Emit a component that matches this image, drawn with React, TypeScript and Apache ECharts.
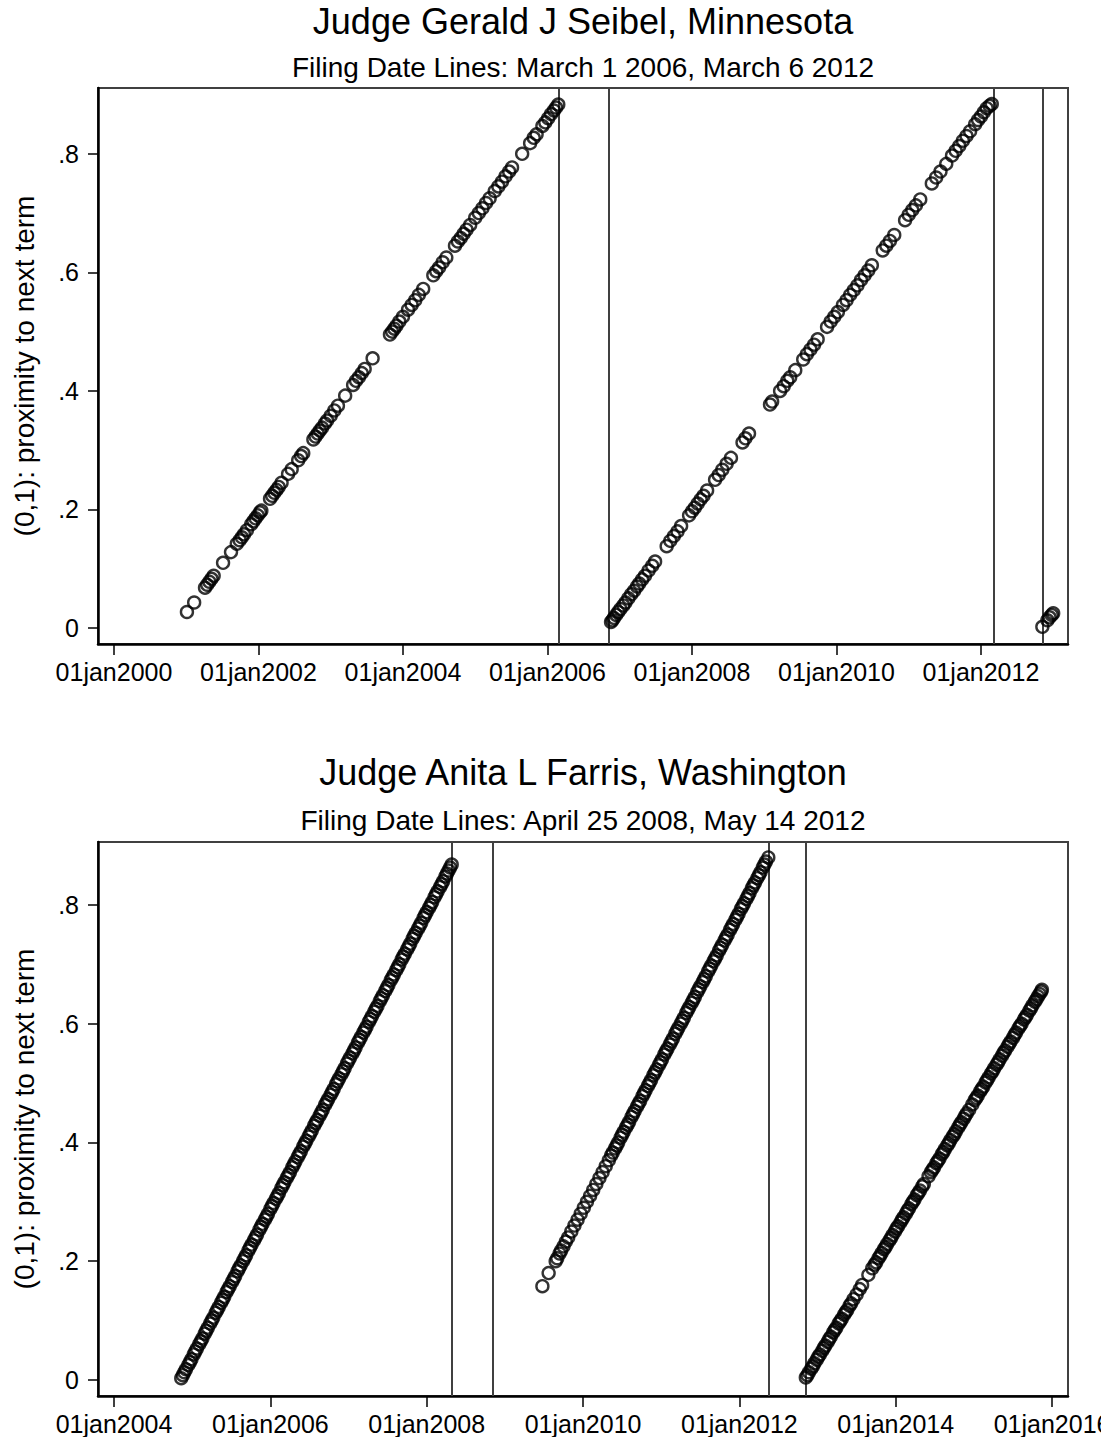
import React, { useEffect, useRef } from "react";
import * as echarts from "echarts";

// ---------- Judge Gerald J Seibel, Minnesota (x = decimal year, y = proximity) ----------
const seibelTerm1: number[][] = [
  [2001.01, 0.027], [2001.11, 0.043], [2001.26, 0.068], [2001.29, 0.073], [2001.32, 0.078],
  [2001.35, 0.083], [2001.38, 0.088], [2001.51, 0.110], [2001.62, 0.128], [2001.70, 0.142],
  [2001.74, 0.148], [2001.77, 0.153], [2001.80, 0.158], [2001.84, 0.165], [2001.90, 0.175],
  [2001.93, 0.180], [2001.96, 0.185], [2001.99, 0.190], [2002.02, 0.195], [2002.04, 0.198],
  [2002.16, 0.218], [2002.19, 0.223], [2002.22, 0.228], [2002.25, 0.233], [2002.28, 0.238],
  [2002.32, 0.245], [2002.41, 0.260], [2002.46, 0.268], [2002.55, 0.283], [2002.59, 0.290],
  [2002.62, 0.295], [2002.76, 0.318], [2002.79, 0.323], [2002.82, 0.328], [2002.85, 0.333],
  [2002.88, 0.338], [2002.92, 0.345], [2002.95, 0.350], [2003.00, 0.358], [2003.05, 0.367],
  [2003.10, 0.375], [2003.20, 0.392], [2003.31, 0.410], [2003.35, 0.417], [2003.39, 0.423],
  [2003.43, 0.430], [2003.47, 0.437], [2003.58, 0.455], [2003.82, 0.495], [2003.85, 0.500],
  [2003.88, 0.505], [2003.91, 0.510], [2003.95, 0.517], [2004.00, 0.525], [2004.07, 0.537],
  [2004.12, 0.545], [2004.17, 0.553], [2004.22, 0.562], [2004.28, 0.572], [2004.42, 0.595],
  [2004.46, 0.602], [2004.50, 0.608], [2004.55, 0.617], [2004.60, 0.625], [2004.72, 0.645],
  [2004.76, 0.652], [2004.80, 0.658], [2004.84, 0.665], [2004.88, 0.672], [2004.93, 0.680],
  [2005.00, 0.692], [2005.05, 0.700], [2005.10, 0.708], [2005.15, 0.717], [2005.20, 0.725],
  [2005.27, 0.737], [2005.32, 0.745], [2005.37, 0.753], [2005.42, 0.762], [2005.47, 0.770],
  [2005.51, 0.777], [2005.65, 0.800], [2005.76, 0.818], [2005.81, 0.827], [2005.85, 0.833],
  [2005.93, 0.847], [2005.97, 0.853], [2006.01, 0.860], [2006.05, 0.867], [2006.09, 0.873],
  [2006.12, 0.878], [2006.15, 0.883],
];
const seibelTerm2: number[][] = [
  [2006.88, 0.010], [2006.90, 0.013], [2006.92, 0.017], [2006.95, 0.022], [2006.98, 0.027],
  [2007.01, 0.032], [2007.05, 0.038], [2007.08, 0.043], [2007.12, 0.050], [2007.16, 0.057],
  [2007.20, 0.063], [2007.24, 0.070], [2007.27, 0.075], [2007.31, 0.082], [2007.35, 0.088],
  [2007.40, 0.097], [2007.45, 0.105], [2007.49, 0.112], [2007.65, 0.138], [2007.70, 0.147],
  [2007.75, 0.155], [2007.80, 0.163], [2007.85, 0.172], [2007.96, 0.190], [2008.00, 0.197],
  [2008.04, 0.203], [2008.08, 0.210], [2008.12, 0.217], [2008.16, 0.223], [2008.21, 0.232],
  [2008.32, 0.250], [2008.37, 0.258], [2008.42, 0.267], [2008.48, 0.277], [2008.54, 0.287],
  [2008.70, 0.313], [2008.74, 0.320], [2008.79, 0.328], [2009.08, 0.377], [2009.11, 0.382],
  [2009.22, 0.400], [2009.27, 0.408], [2009.32, 0.417], [2009.36, 0.423], [2009.43, 0.435],
  [2009.54, 0.453], [2009.59, 0.462], [2009.64, 0.470], [2009.69, 0.478], [2009.74, 0.487],
  [2009.87, 0.508], [2009.92, 0.517], [2009.97, 0.525], [2010.02, 0.533], [2010.09, 0.545],
  [2010.14, 0.553], [2010.19, 0.562], [2010.24, 0.570], [2010.29, 0.578], [2010.34, 0.587],
  [2010.39, 0.595], [2010.44, 0.603], [2010.49, 0.612], [2010.64, 0.637], [2010.69, 0.645],
  [2010.74, 0.653], [2010.80, 0.663], [2010.95, 0.688], [2011.00, 0.697], [2011.05, 0.705],
  [2011.10, 0.713], [2011.16, 0.723], [2011.32, 0.750], [2011.38, 0.760], [2011.44, 0.770],
  [2011.52, 0.783], [2011.60, 0.797], [2011.65, 0.805], [2011.70, 0.813], [2011.75, 0.822],
  [2011.80, 0.830], [2011.85, 0.838], [2011.92, 0.850], [2011.96, 0.857], [2012.00, 0.863],
  [2012.04, 0.870], [2012.08, 0.877], [2012.12, 0.881], [2012.15, 0.884],
];
const seibelTerm3: number[][] = [
  [2012.85, 0.002], [2012.92, 0.013], [2012.95, 0.018], [2012.98, 0.022], [2013.00, 0.025],
];
const seibelFilingLines = [2006.16, 2012.18];
const seibelElectionLines = [2006.85, 2012.85];
const seibelXTicks = [2000, 2002, 2004, 2006, 2008, 2010, 2012];

// ---------- Judge Anita L Farris, Washington ----------
const farrisTerm1: number[][] = [
  [2004.86, 0.003], [2004.88, 0.008], [2004.90, 0.013], [2004.92, 0.018], [2004.95, 0.025],
  [2004.97, 0.030], [2004.99, 0.035], [2005.02, 0.043], [2005.04, 0.048], [2005.06, 0.053],
  [2005.09, 0.060], [2005.11, 0.065], [2005.13, 0.070], [2005.16, 0.078], [2005.18, 0.083],
  [2005.20, 0.088], [2005.23, 0.095], [2005.25, 0.100], [2005.27, 0.105], [2005.30, 0.113],
  [2005.32, 0.118], [2005.34, 0.123], [2005.37, 0.130], [2005.39, 0.135], [2005.41, 0.140],
  [2005.44, 0.148], [2005.46, 0.153], [2005.48, 0.158], [2005.51, 0.165], [2005.53, 0.170],
  [2005.55, 0.175], [2005.58, 0.183], [2005.60, 0.188], [2005.62, 0.193], [2005.65, 0.200],
  [2005.67, 0.205], [2005.69, 0.210], [2005.72, 0.218], [2005.74, 0.223], [2005.76, 0.228],
  [2005.79, 0.235], [2005.81, 0.240], [2005.83, 0.245], [2005.86, 0.253], [2005.88, 0.258],
  [2005.90, 0.263], [2005.93, 0.270], [2005.95, 0.275], [2005.97, 0.280], [2006.00, 0.288],
  [2006.02, 0.293], [2006.04, 0.298], [2006.07, 0.305], [2006.09, 0.310], [2006.11, 0.315],
  [2006.14, 0.323], [2006.16, 0.328], [2006.18, 0.333], [2006.21, 0.340], [2006.23, 0.345],
  [2006.25, 0.350], [2006.28, 0.358], [2006.30, 0.363], [2006.32, 0.368], [2006.35, 0.375],
  [2006.37, 0.380], [2006.39, 0.385], [2006.42, 0.393], [2006.44, 0.398], [2006.46, 0.403],
  [2006.49, 0.410], [2006.51, 0.415], [2006.53, 0.420], [2006.56, 0.428], [2006.58, 0.433],
  [2006.60, 0.438], [2006.63, 0.445], [2006.65, 0.450], [2006.67, 0.455], [2006.70, 0.463],
  [2006.72, 0.468], [2006.74, 0.473], [2006.77, 0.480], [2006.79, 0.485], [2006.81, 0.490],
  [2006.84, 0.498], [2006.86, 0.503], [2006.88, 0.508], [2006.91, 0.515], [2006.93, 0.520],
  [2006.95, 0.525], [2006.98, 0.533], [2007.00, 0.538], [2007.02, 0.543], [2007.05, 0.550],
  [2007.07, 0.555], [2007.09, 0.560], [2007.12, 0.568], [2007.14, 0.573], [2007.16, 0.578],
  [2007.19, 0.585], [2007.21, 0.590], [2007.23, 0.595], [2007.26, 0.603], [2007.28, 0.608],
  [2007.30, 0.613], [2007.33, 0.620], [2007.35, 0.625], [2007.37, 0.630], [2007.40, 0.638],
  [2007.42, 0.643], [2007.44, 0.648], [2007.47, 0.655], [2007.49, 0.660], [2007.51, 0.665],
  [2007.54, 0.673], [2007.56, 0.678], [2007.58, 0.683], [2007.61, 0.690], [2007.63, 0.695],
  [2007.65, 0.700], [2007.68, 0.708], [2007.70, 0.713], [2007.72, 0.718], [2007.75, 0.725],
  [2007.77, 0.730], [2007.79, 0.735], [2007.82, 0.743], [2007.84, 0.748], [2007.86, 0.753],
  [2007.89, 0.760], [2007.91, 0.765], [2007.93, 0.770], [2007.96, 0.778], [2007.98, 0.783],
  [2008.00, 0.788], [2008.03, 0.795], [2008.05, 0.800], [2008.07, 0.805], [2008.10, 0.813],
  [2008.12, 0.818], [2008.14, 0.823], [2008.17, 0.830], [2008.19, 0.835], [2008.21, 0.840],
  [2008.24, 0.848], [2008.26, 0.853], [2008.28, 0.858], [2008.30, 0.863], [2008.32, 0.868],
];
const farrisTerm2: number[][] = [
  [2009.48, 0.158], [2009.56, 0.180], [2009.65, 0.200], [2009.67, 0.205], [2009.70, 0.213],
  [2009.72, 0.218], [2009.75, 0.225], [2009.78, 0.233], [2009.81, 0.240], [2009.85, 0.250],
  [2009.89, 0.260], [2009.93, 0.270], [2009.97, 0.280], [2010.01, 0.290], [2010.05, 0.300],
  [2010.09, 0.310], [2010.13, 0.320], [2010.17, 0.330], [2010.21, 0.340], [2010.25, 0.350],
  [2010.29, 0.360], [2010.33, 0.370], [2010.36, 0.378], [2010.38, 0.383], [2010.41, 0.390],
  [2010.43, 0.395], [2010.45, 0.400], [2010.48, 0.408], [2010.50, 0.413], [2010.52, 0.418],
  [2010.55, 0.425], [2010.57, 0.430], [2010.59, 0.435], [2010.62, 0.443], [2010.64, 0.448],
  [2010.66, 0.453], [2010.69, 0.460], [2010.71, 0.465], [2010.73, 0.470], [2010.76, 0.478],
  [2010.78, 0.483], [2010.80, 0.488], [2010.83, 0.495], [2010.85, 0.500], [2010.87, 0.505],
  [2010.90, 0.513], [2010.92, 0.518], [2010.94, 0.523], [2010.97, 0.530], [2010.99, 0.535],
  [2011.01, 0.540], [2011.04, 0.548], [2011.06, 0.553], [2011.08, 0.558], [2011.11, 0.565],
  [2011.13, 0.570], [2011.15, 0.575], [2011.18, 0.583], [2011.20, 0.588], [2011.22, 0.593],
  [2011.25, 0.600], [2011.27, 0.605], [2011.29, 0.610], [2011.32, 0.618], [2011.34, 0.623],
  [2011.36, 0.628], [2011.39, 0.635], [2011.41, 0.640], [2011.43, 0.645], [2011.46, 0.653],
  [2011.48, 0.658], [2011.50, 0.663], [2011.53, 0.670], [2011.55, 0.675], [2011.57, 0.680],
  [2011.60, 0.688], [2011.62, 0.693], [2011.64, 0.698], [2011.67, 0.705], [2011.69, 0.710],
  [2011.71, 0.715], [2011.74, 0.723], [2011.76, 0.728], [2011.78, 0.733], [2011.81, 0.740],
  [2011.83, 0.745], [2011.85, 0.750], [2011.88, 0.758], [2011.90, 0.763], [2011.92, 0.768],
  [2011.95, 0.775], [2011.97, 0.780], [2011.99, 0.785], [2012.02, 0.793], [2012.04, 0.798],
  [2012.06, 0.803], [2012.09, 0.810], [2012.11, 0.815], [2012.13, 0.820], [2012.16, 0.828],
  [2012.18, 0.833], [2012.20, 0.838], [2012.23, 0.845], [2012.25, 0.850], [2012.27, 0.855],
  [2012.30, 0.863], [2012.32, 0.868], [2012.34, 0.873], [2012.37, 0.880],
];
const farrisTerm3: number[][] = [
  [2012.85, 0.004], [2012.87, 0.008], [2012.89, 0.013], [2012.92, 0.019], [2012.94, 0.023],
  [2012.96, 0.028], [2012.99, 0.034], [2013.01, 0.039], [2013.03, 0.043], [2013.06, 0.049],
  [2013.08, 0.054], [2013.10, 0.058], [2013.13, 0.064], [2013.15, 0.069], [2013.17, 0.073],
  [2013.20, 0.080], [2013.22, 0.084], [2013.24, 0.088], [2013.27, 0.095], [2013.29, 0.099],
  [2013.31, 0.103], [2013.34, 0.110], [2013.36, 0.114], [2013.38, 0.118], [2013.41, 0.125],
  [2013.43, 0.129], [2013.46, 0.136], [2013.50, 0.144], [2013.54, 0.153], [2013.57, 0.160],
  [2013.65, 0.177], [2013.70, 0.188], [2013.73, 0.194], [2013.75, 0.198], [2013.78, 0.205],
  [2013.80, 0.209], [2013.82, 0.214], [2013.85, 0.220], [2013.87, 0.224], [2013.89, 0.229],
  [2013.92, 0.235], [2013.94, 0.239], [2013.96, 0.244], [2013.99, 0.250], [2014.01, 0.255],
  [2014.03, 0.259], [2014.06, 0.265], [2014.08, 0.270], [2014.10, 0.274], [2014.13, 0.280],
  [2014.15, 0.285], [2014.17, 0.289], [2014.20, 0.296], [2014.22, 0.300], [2014.24, 0.304],
  [2014.27, 0.311], [2014.29, 0.315], [2014.31, 0.319], [2014.34, 0.326], [2014.36, 0.330],
  [2014.42, 0.343], [2014.45, 0.350], [2014.47, 0.354], [2014.49, 0.358], [2014.52, 0.365],
  [2014.54, 0.369], [2014.56, 0.373], [2014.59, 0.380], [2014.61, 0.384], [2014.63, 0.389],
  [2014.66, 0.395], [2014.68, 0.399], [2014.70, 0.404], [2014.73, 0.410], [2014.75, 0.414],
  [2014.77, 0.419], [2014.80, 0.425], [2014.82, 0.430], [2014.84, 0.434], [2014.87, 0.440],
  [2014.89, 0.445], [2014.91, 0.449], [2014.94, 0.455], [2014.98, 0.464], [2015.01, 0.471],
  [2015.03, 0.475], [2015.05, 0.479], [2015.08, 0.486], [2015.10, 0.490], [2015.12, 0.494],
  [2015.15, 0.501], [2015.17, 0.505], [2015.19, 0.510], [2015.22, 0.516], [2015.24, 0.520],
  [2015.26, 0.525], [2015.29, 0.531], [2015.31, 0.535], [2015.33, 0.540], [2015.36, 0.546],
  [2015.38, 0.551], [2015.40, 0.555], [2015.43, 0.561], [2015.45, 0.566], [2015.47, 0.570],
  [2015.50, 0.576], [2015.52, 0.581], [2015.54, 0.585], [2015.57, 0.592], [2015.59, 0.596],
  [2015.61, 0.600], [2015.64, 0.607], [2015.66, 0.611], [2015.68, 0.615], [2015.71, 0.622],
  [2015.73, 0.626], [2015.75, 0.631], [2015.78, 0.637], [2015.80, 0.641], [2015.82, 0.646],
  [2015.84, 0.650], [2015.86, 0.654], [2015.87, 0.657],
];
const farrisFilingLines = [2008.32, 2012.37];
const farrisElectionLines = [2008.85, 2012.85];
const farrisXTicks = [2004, 2006, 2008, 2010, 2012, 2014, 2016];

const yTicks = [0, 0.2, 0.4, 0.6, 0.8];

const titles = [
  { title: "Judge Gerald J Seibel, Minnesota", sub: "Filing Date Lines: March 1 2006, March 6 2012" },
  { title: "Judge Anita L Farris, Washington", sub: "Filing Date Lines: April 25 2008, May 14 2012" },
];
const yTitle = "(0,1): proximity to next term";

const FONT = '"Liberation Sans", Arial, Helvetica, sans-serif';

function xAxisFor(gridIndex: number, min: number, max: number, ticks: number[]) {
  return {
    type: "value",
    gridIndex,
    min,
    max,
    axisLine: { show: true, onZero: false, lineStyle: { color: "#000", width: 2.5 } },
    axisTick: { show: true, length: 11, customValues: ticks, lineStyle: { color: "#000", width: 1.5 } },
    axisLabel: {
      show: true,
      customValues: ticks,
      margin: 15,
      fontSize: 25,
      fontFamily: FONT,
      color: "#000",
      formatter: (v: number) => "01jan" + Math.round(v),
      hideOverlap: false,
    },
    splitLine: { show: false },
  };
}

function yAxisFor(gridIndex: number, min: number, max: number) {
  return {
    type: "value",
    gridIndex,
    min,
    max,
    name: yTitle,
    nameLocation: "middle",
    nameGap: 60,
    nameTextStyle: { fontSize: 28, fontFamily: FONT, color: "#000" },
    axisLine: { show: true, onZero: false, lineStyle: { color: "#000", width: 2.5 } },
    axisTick: { show: true, length: 10, customValues: yTicks, lineStyle: { color: "#000", width: 1.5 } },
    axisLabel: {
      show: true,
      customValues: yTicks,
      margin: 19,
      fontSize: 25,
      fontFamily: FONT,
      color: "#000",
      formatter: (v: number) => (Math.abs(v) < 1e-9 ? "0" : "." + Math.round(v * 10)),
    },
    splitLine: { show: false },
  };
}

function scatterSeries(idx: number, data: number[][], lines?: number[]) {
  const s: any = {
    type: "scatter",
    xAxisIndex: idx,
    yAxisIndex: idx,
    data,
    symbol: "circle",
    symbolSize: 12,
    itemStyle: { color: "rgba(0,0,0,0)", borderColor: "#000", borderWidth: 2.4 },
    silent: true,
    z: 3,
  };
  if (lines) {
    s.markLine = {
      silent: true,
      symbol: "none",
      label: { show: false },
      lineStyle: { color: "#404040", width: 2, type: "solid" },
      data: lines.map((v) => ({ xAxis: v })),
      z: 2,
    };
  }
  return s;
}

export default function App() {
  const ref = useRef<HTMLDivElement>(null);

  useEffect(() => {
    document.body.style.margin = "0";
    if (!ref.current) return;
    const chart = echarts.init(ref.current, undefined, { renderer: "svg" });

    const titleGraphics: any[] = [
      { y: 21, text: titles[0].title, size: 36 },
      { y: 67, text: titles[0].sub, size: 28 },
      { y: 772, text: titles[1].title, size: 36 },
      { y: 820, text: titles[1].sub, size: 28 },
    ].map((t) => ({
      type: "text",
      x: 583,
      y: t.y,
      style: {
        text: t.text,
        fontSize: t.size,
        fontFamily: FONT,
        fill: "#000",
        align: "center",
        verticalAlign: "middle",
      },
    }));

    const option: any = {
      animation: false,
      backgroundColor: "#fff",
      grid: [
        { left: 98, top: 88, width: 970, height: 556, show: true, borderColor: "#404040", borderWidth: 2, backgroundColor: "transparent", containLabel: false, outerBoundsMode: "none" },
        { left: 98, top: 842, width: 970, height: 554, show: true, borderColor: "#404040", borderWidth: 2, backgroundColor: "transparent", containLabel: false, outerBoundsMode: "none" },
      ],
      xAxis: [
        xAxisFor(0, 1999.779, 2013.205, seibelXTicks),
        xAxisFor(1, 2003.795, 2016.204, farrisXTicks),
      ],
      yAxis: [yAxisFor(0, -0.027, 0.911), yAxisFor(1, -0.027, 0.906)],
      graphic: titleGraphics,
      series: [
        scatterSeries(0, seibelTerm1, [...seibelFilingLines, ...seibelElectionLines]),
        scatterSeries(0, seibelTerm2),
        scatterSeries(0, seibelTerm3),
        scatterSeries(1, farrisTerm1, [...farrisFilingLines, ...farrisElectionLines]),
        scatterSeries(1, farrisTerm2),
        scatterSeries(1, farrisTerm3),
      ],
    };
    chart.setOption(option);
    return () => chart.dispose();
  }, []);

  return <div ref={ref} style={{ width: 1101, height: 1437, overflow: "hidden" }} />;
}
